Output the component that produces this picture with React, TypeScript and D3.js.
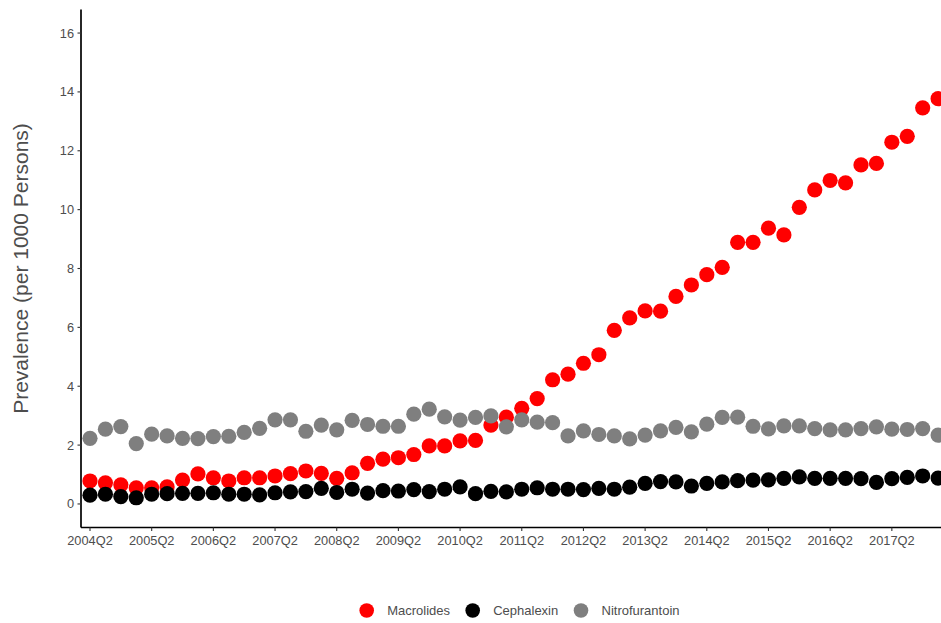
import React from "react";
import * as d3 from "d3";

const startYear = 2004;
const quarters: string[] = [];
for (let i = 0; i < 56; i++) {
  const q = ((1 + i) % 4) + 1;
  const y = startYear + Math.floor((1 + i) / 4);
  quarters.push(`${y}Q${q}`);
}

const xTickLabels = [
  "2004Q2", "2005Q2", "2006Q2", "2007Q2", "2008Q2", "2009Q2", "2010Q2",
  "2011Q2", "2012Q2", "2013Q2", "2014Q2", "2015Q2", "2016Q2", "2017Q2",
];
const yTicks = [0, 2, 4, 6, 8, 10, 12, 14, 16];

const macrolides = [
  0.78, 0.72, 0.65, 0.55, 0.55, 0.58, 0.81, 1.02, 0.89, 0.78,
  0.89, 0.89, 0.95, 1.03, 1.12, 1.04, 0.87, 1.06, 1.38, 1.52,
  1.57, 1.68, 1.97, 1.97, 2.14, 2.16, 2.68, 2.95, 3.25, 3.58,
  4.22, 4.41, 4.78, 5.07, 5.9, 6.32, 6.56, 6.55, 7.05, 7.44,
  7.79, 8.04, 8.89, 8.89, 9.37, 9.14, 10.08, 10.67, 10.99, 10.91,
  11.52, 11.57, 12.29, 12.49, 13.46, 13.77,
];
const cephalexin = [
  0.3, 0.33, 0.25, 0.21, 0.33, 0.35, 0.36, 0.36, 0.38, 0.33,
  0.33, 0.31, 0.38, 0.41, 0.42, 0.53, 0.39, 0.5, 0.37, 0.45,
  0.44, 0.49, 0.42, 0.5, 0.58, 0.35, 0.43, 0.41, 0.5, 0.55,
  0.5, 0.5, 0.49, 0.53, 0.5, 0.57, 0.7, 0.76, 0.75, 0.61,
  0.7, 0.75, 0.79, 0.81, 0.82, 0.87, 0.92, 0.87, 0.87, 0.87,
  0.86, 0.73, 0.86, 0.9, 0.95, 0.88,
];
const nitrofurantoin = [
  2.23, 2.54, 2.63, 2.05, 2.37, 2.31, 2.23, 2.22, 2.29, 2.3,
  2.43, 2.57, 2.86, 2.86, 2.47, 2.68, 2.52, 2.84, 2.7, 2.64,
  2.64, 3.05, 3.22, 2.96, 2.85, 2.94, 2.99, 2.62, 2.86, 2.78,
  2.76, 2.31, 2.48, 2.36, 2.31, 2.21, 2.34, 2.48, 2.6, 2.45,
  2.71, 2.94, 2.95, 2.64, 2.55, 2.65, 2.65, 2.56, 2.52, 2.52,
  2.56, 2.62, 2.54, 2.53, 2.56, 2.34,
];

const seriesNames = ["Macrolides", "Cephalexin", "Nitrofurantoin"];
const seriesColors = ["#FF0000", "#000000", "#7F7F7F"];
const seriesValues = [macrolides, cephalexin, nitrofurantoin];

const W = 941;
const H = 623;
const axisX = 81;
const axisY = 527.5;
const FONT = "'Liberation Sans', Arial, Helvetica, sans-serif";

export default function App() {
  const x = d3
    .scalePoint<string>()
    .domain(quarters)
    .range([90, 90 + 15.42 * (quarters.length - 1)]);
  const y = d3.scaleLinear().domain([-0.8, 16.8]).range([axisY, 9.5]);

  const legendX = [366.7, 472.7, 581];
  const legendY = 610.5;

  return (
    <svg
      width={W}
      height={H}
      style={{ position: "absolute", left: 0, top: 0, background: "#fff" }}
      fontFamily={FONT}
    >
      <rect width={W} height={H} fill="#fff" />
      {seriesValues.map((vals, si) => (
        <g key={seriesNames[si]}>
          {vals.map((v, i) => (
            <circle
              key={i}
              cx={x(quarters[i])}
              cy={y(v)}
              r={7.6}
              fill={seriesColors[si]}
            />
          ))}
        </g>
      ))}
      <line x1={axisX} x2={W} y1={axisY} y2={axisY} stroke="#000" strokeWidth={1.7} />
      <line x1={axisX} x2={axisX} y1={9.5} y2={axisY} stroke="#000" strokeWidth={1.7} />
      {yTicks.map((t) => (
        <g key={t} transform={`translate(0,${y(t)})`}>
          <line x1={axisX - 3.5} x2={axisX} stroke="#333" strokeWidth={1.1} />
          <text x={axisX - 7} dy="0.35em" textAnchor="end" fontSize={12.8} fill="#4D4D4D">
            {t}
          </text>
        </g>
      ))}
      {xTickLabels.map((t) => (
        <g key={t} transform={`translate(${x(t)},0)`}>
          <line y1={axisY} y2={axisY + 3.5} stroke="#333" strokeWidth={1.1} />
          <text y={axisY + 13.5} dy="0.35em" textAnchor="middle" fontSize={12.8} fill="#4D4D4D">
            {t}
          </text>
        </g>
      ))}
      <text
        transform={`translate(21,${(9.5 + axisY) / 2}) rotate(-90)`}
        dy="0.35em"
        textAnchor="middle"
        fontSize={21}
        fill="#4D4D4D"
      >
        Prevalence (per 1000 Persons)
      </text>
      {seriesNames.map((n, i) => (
        <g key={n}>
          <circle cx={legendX[i]} cy={legendY} r={7.3} fill={seriesColors[i]} />
          <text x={legendX[i] + 20.5} y={legendY} dy="0.35em" fontSize={13} fill="#4D4D4D">
            {n}
          </text>
        </g>
      ))}
    </svg>
  );
}
